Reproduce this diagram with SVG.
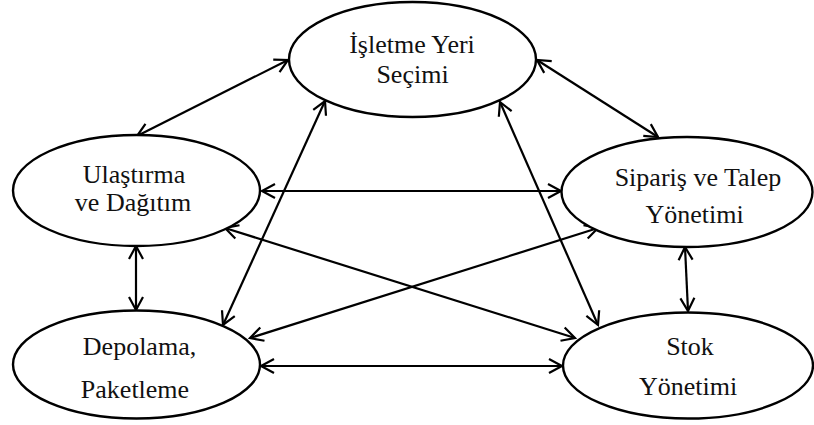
<svg xmlns="http://www.w3.org/2000/svg" width="814" height="425" viewBox="0 0 814 425">
  <style>
    .node ellipse { fill: #fff; stroke: #000; stroke-width: 2.4; }
    #connectors line { stroke: #000; stroke-width: 2.2; fill: none; marker-start: url(#head); marker-end: url(#head); }
  </style>
  <defs>
    <!-- open V arrowhead, reused at both ends of every two-way link -->
    <marker id="head" markerUnits="userSpaceOnUse" markerWidth="20" markerHeight="20" viewBox="-16 -10 20 20" refX="0" refY="0" orient="auto-start-reverse" overflow="visible">
      <path d="M -13 -7 L 0 0 L -13 7" fill="none" stroke="#000" stroke-width="2.2" stroke-linejoin="miter"/>
    </marker>
  </defs>

  <rect width="814" height="425" fill="#fff"/>

  <g id="connectors">
    <line x1="137" y1="136" x2="288" y2="60"/>
    <line x1="537" y1="60" x2="658" y2="137"/>
    <line x1="262" y1="191" x2="561" y2="191"/>
    <line x1="225" y1="228" x2="575" y2="338"/>
    <line x1="598" y1="228" x2="250" y2="338"/>
    <line x1="136" y1="246" x2="136" y2="310"/>
    <line x1="685" y1="247" x2="688" y2="311"/>
    <line x1="261" y1="366" x2="562" y2="366"/>
    <line x1="325" y1="101" x2="223" y2="325"/>
    <line x1="500" y1="102" x2="598" y2="325"/>
  </g>

  <!-- all labels share one serif face -->
  <g font-family="Liberation Serif" font-size="26" fill="#111" text-anchor="middle">
    <g id="isletme" class="node">
      <ellipse cx="412.5" cy="59.5" rx="123.5" ry="57.5"/>
      <text x="412" y="53">İşletme Yeri</text>
      <text x="412.5" y="83">Seçimi</text>
    </g>

    <g id="ulastirma" class="node">
      <ellipse cx="136.5" cy="190.5" rx="123.5" ry="55.5"/>
      <text x="134" y="183">Ulaştırma</text>
      <text x="133" y="211">ve Dağıtım</text>
    </g>

    <g id="siparis" class="node">
      <ellipse cx="687" cy="192" rx="125.5" ry="55"/>
      <text x="698" y="186">Sipariş ve Talep</text>
      <text x="694.5" y="223">Yönetimi</text>
    </g>

    <g id="depolama" class="node">
      <ellipse cx="136.5" cy="364.5" rx="123.5" ry="54"/>
      <text x="139.5" y="355">Depolama,</text>
      <text x="135" y="398">Paketleme</text>
    </g>

    <g id="stok" class="node">
      <ellipse cx="688" cy="365.5" rx="125" ry="53"/>
      <text x="690" y="355">Stok</text>
      <text x="688" y="395">Yönetimi</text>
    </g>
  </g>
</svg>
